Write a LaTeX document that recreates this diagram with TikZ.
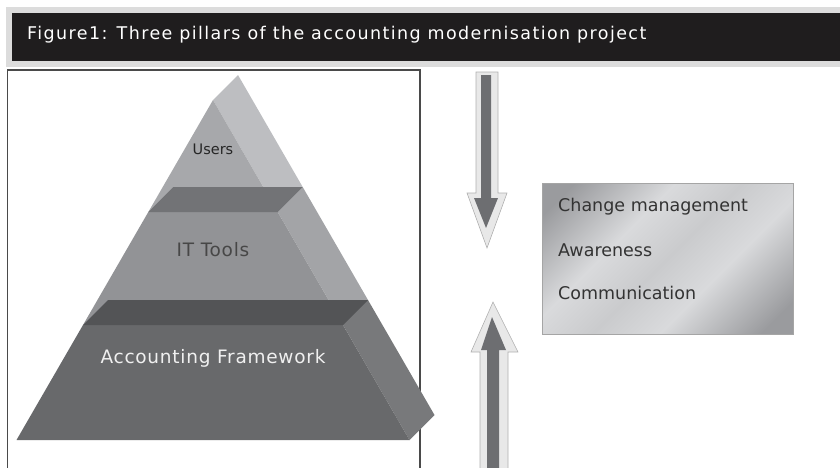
\documentclass[tikz,border=0pt]{standalone}
\usepackage{fontspec}
\setmainfont{DejaVu Sans}
\usepackage{tikz}
\usetikzlibrary{positioning}

\definecolor{bar}{HTML}{1F1D1E}
\definecolor{barrim}{HTML}{DCDCDC}
\definecolor{frame}{HTML}{4A4A4A}
\definecolor{usersfront}{HTML}{A7A8AB}
\definecolor{usersside}{HTML}{BDBEC1}
\definecolor{itband}{HTML}{727376}
\definecolor{itfront}{HTML}{929396}
\definecolor{itside}{HTML}{A3A4A7}
\definecolor{accband}{HTML}{535456}
\definecolor{accfront}{HTML}{68696B}
\definecolor{accside}{HTML}{78797B}
\definecolor{arrowrim}{HTML}{E8E8E8}
\definecolor{arrowedge}{HTML}{B0B0B0}
\definecolor{arrowcore}{HTML}{6D6E71}
\definecolor{boxdark}{HTML}{9A9B9E}
\definecolor{boxmid}{HTML}{CACBCD}
\definecolor{boxlight}{HTML}{D9DADC}
\definecolor{boxline}{HTML}{A5A5A5}
\definecolor{boxink}{HTML}{333333}

\pgfdeclarehorizontalshading{silverbox}{100bp}{color(0bp)=(boxdark); color(30bp)=(boxdark); color(42bp)=(boxlight); color(50bp)=(boxmid); color(58bp)=(boxlight); color(70bp)=(boxdark); color(100bp)=(boxdark)}

\begin{document}
\begin{tikzpicture}[x=1pt,y=-1pt]
\tikzstyle{every node}+=[inner sep=0pt]
\tikzstyle{boxtext}=[anchor=base west, text=boxink, font=\fontsize{17.5}{20}\selectfont]
\tikzstyle{tiertext}=[font=\fontsize{18.5}{22}\selectfont\addfontfeature{LetterSpace=4}]
\useasboundingbox (0,0) rectangle (840,467);
\fill [barrim] (6,6.7) rectangle (840,67);
\fill [bar] (11.7,13.3) rectangle (840,61);
\node [anchor=base west, text=white, font=\fontsize{17.5}{20}\selectfont\addfontfeature{LetterSpace=8}] (title) at (27,39.5) {Figure1: Three pillars of the accounting modernisation project};
\draw [frame, line width=1.2] (7.5,470) -- (7.5,70) -- (420,70) -- (420,470);
\fill [usersside] (213,100) -- (238,75) -- (302.7,187) -- (263.3,187) -- cycle;
\fill [itside] (263.3,187) -- (302.7,187) -- (368,300) -- (328.6,300) -- cycle;
\fill [accside] (328.6,300) -- (368,300) -- (434.5,415) -- (409.5,440) -- cycle;
\fill [usersfront] (213,100) -- (148.3,212) -- (277.7,212) -- cycle;
\fill [itfront] (148.3,212) -- (83,325) -- (343,325) -- (277.7,212) -- cycle;
\fill [accfront] (83,325) -- (16.5,440) -- (409.5,440) -- (343,325) -- cycle;
\fill [itband] (173.3,187) -- (302.7,187) -- (277.7,212) -- (148.3,212) -- cycle;
\fill [accband] (108,300) -- (368,300) -- (343,325) -- (83,325) -- cycle;
\node [text=black!85, font=\fontsize{14.5}{17}\selectfont] (users) at (213,149) {Users};
\node [tiertext, text=black!72] (ittools) at (213,250) {IT Tools};
\node [tiertext, text=white!94!black] (accounting) at (213,358) {Accounting Framework};
\draw [arrowedge, fill=arrowrim, line width=0.6] (476,72) -- (498,72) -- (498,193) -- (507,193) -- (487,248) -- (467,193) -- (476,193) -- cycle;
\fill [arrowcore] (481,75) -- (491,75) -- (491,198) -- (498,198) -- (486,228) -- (474,198) -- (481,198) -- cycle;
\draw [arrowedge, fill=arrowrim, line width=0.6] (480,470) -- (480,352) -- (471,352) -- (493,302) -- (518,352) -- (508,352) -- (508,470);
\fill [arrowcore] (487,470) -- (487,350) -- (481,350) -- (492,317) -- (506,350) -- (499,350) -- (499,470) -- cycle;
\begin{scope}
\clip (542,183) rectangle (793,334);
\shade [shading=silverbox, shading angle=-45] (517.5,108.5) rectangle (817.5,408.5);
\end{scope}
\draw [boxline, line width=0.8] (542,183) rectangle (793,334);
\node [boxtext] (change) at (558,211.5) {Change management};
\node [boxtext] (awareness) at (558,256) {Awareness};
\node [boxtext] (communication) at (558,299) {Communication};
\end{tikzpicture}
\end{document}
